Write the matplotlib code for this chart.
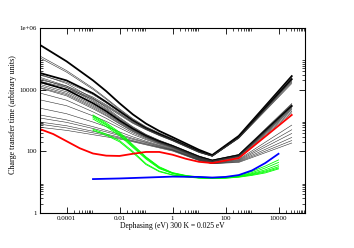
import numpy as np
import matplotlib.pyplot as plt

plt.rcParams['font.family'] = ['Liberation Serif', 'DejaVu Serif']

# x grid (log10 of dephasing, eV) shared by the black curves
black_lx = [-5, -4, -3, -2.5, -2, -1.5, -1, -0.5, 0, 1, 1.5, 2.5, 4.5]

# log10 of transfer time
black_upper = [
    [5.45, 4.92, 4.30, 3.95, 3.56, 3.20, 2.90, 2.66, 2.46, 2.05, 1.88, 2.50, 4.44],
    [5.09, 4.62, 4.05, 3.72, 3.38, 3.06, 2.80, 2.60, 2.42, 2.02, 1.87, 2.48, 4.40],
    [5.03, 4.57, 4.01, 3.69, 3.35, 3.04, 2.78, 2.58, 2.40, 2.01, 1.86, 2.47, 4.37],
    [4.54, 4.30, 3.88, 3.60, 3.30, 3.00, 2.75, 2.56, 2.38, 2.00, 1.86, 2.46, 4.34],
    [4.47, 4.24, 3.84, 3.57, 3.27, 2.98, 2.74, 2.54, 2.37, 1.99, 1.85, 2.45, 4.31],
    [4.32, 4.12, 3.76, 3.51, 3.23, 2.95, 2.72, 2.53, 2.36, 1.98, 1.85, 2.44, 4.28],
    [4.27, 4.07, 3.72, 3.48, 3.21, 2.93, 2.71, 2.52, 2.35, 1.97, 1.84, 2.43, 4.24],
    [4.22, 4.02, 3.69, 3.45, 3.18, 2.91, 2.70, 2.51, 2.34, 1.96, 1.84, 2.42, 4.20],
]
upper_thick = [0, 3]

black_middle = [
    [4.50, 4.20, 3.72, 3.42, 3.10, 2.80, 2.55, 2.36, 2.20, 1.85, 1.72, 1.90, 3.55],
    [4.40, 4.12, 3.66, 3.38, 3.07, 2.78, 2.54, 2.35, 2.19, 1.84, 1.71, 1.89, 3.52],
    [4.36, 4.08, 3.62, 3.35, 3.04, 2.76, 2.52, 2.33, 2.18, 1.83, 1.70, 1.88, 3.50],
    [4.25, 4.00, 3.56, 3.30, 3.00, 2.73, 2.50, 2.32, 2.17, 1.82, 1.70, 1.87, 3.47],
    [4.17, 3.93, 3.50, 3.25, 2.96, 2.70, 2.48, 2.30, 2.16, 1.81, 1.69, 1.86, 3.44],
    [4.12, 3.88, 3.46, 3.22, 2.94, 2.68, 2.47, 2.29, 2.15, 1.80, 1.68, 1.85, 3.41],
    [4.07, 3.84, 3.42, 3.18, 2.91, 2.66, 2.45, 2.28, 2.14, 1.79, 1.68, 1.84, 3.38],
    [4.05, 3.80, 3.38, 3.15, 2.89, 2.64, 2.44, 2.27, 2.13, 1.78, 1.67, 1.83, 3.35],
    [3.89, 3.66, 3.28, 3.07, 2.83, 2.60, 2.41, 2.25, 2.12, 1.77, 1.66, 1.82, 3.30],
    [3.67, 3.48, 3.15, 2.97, 2.76, 2.55, 2.38, 2.23, 2.10, 1.76, 1.65, 1.80, 3.25],
]
middle_thick = [3]

black_lower = [
    [3.40, 3.22, 2.95, 2.80, 2.63, 2.47, 2.33, 2.20, 2.08, 1.75, 1.64, 1.74, 2.85],
    [3.18, 3.02, 2.80, 2.68, 2.55, 2.42, 2.30, 2.18, 2.06, 1.74, 1.63, 1.72, 2.70],
    [3.08, 2.94, 2.74, 2.63, 2.51, 2.39, 2.28, 2.16, 2.05, 1.73, 1.62, 1.70, 2.58],
    [2.95, 2.83, 2.65, 2.56, 2.46, 2.35, 2.25, 2.14, 2.04, 1.72, 1.61, 1.68, 2.45],
    [2.88, 2.76, 2.60, 2.52, 2.43, 2.33, 2.23, 2.13, 2.03, 1.71, 1.60, 1.66, 2.35],
    [2.78, 2.68, 2.54, 2.47, 2.40, 2.31, 2.21, 2.11, 2.01, 1.70, 1.60, 1.64, 2.27],
]

green_lx = [-3, -2.5, -2, -1.5, -1, -0.5, 0, 0.5, 1, 1.5, 2, 2.5, 3, 3.5, 4]
green = [
    [3.18, 2.92, 2.62, 2.22, 1.82, 1.50, 1.31, 1.22, 1.17, 1.15, 1.17, 1.22, 1.35, 1.52, 1.72],
    [3.14, 2.88, 2.58, 2.19, 1.80, 1.48, 1.30, 1.21, 1.16, 1.14, 1.16, 1.20, 1.31, 1.46, 1.64],
    [3.10, 2.85, 2.55, 2.16, 1.78, 1.46, 1.29, 1.20, 1.15, 1.13, 1.15, 1.19, 1.28, 1.40, 1.56],
    [3.05, 2.80, 2.51, 2.13, 1.75, 1.44, 1.28, 1.19, 1.14, 1.13, 1.14, 1.18, 1.26, 1.36, 1.50],
    [2.72, 2.56, 2.35, 2.00, 1.60, 1.36, 1.24, 1.18, 1.14, 1.12, 1.13, 1.17, 1.24, 1.33, 1.46],
    [2.68, 2.52, 2.31, 1.96, 1.57, 1.34, 1.23, 1.17, 1.13, 1.12, 1.13, 1.16, 1.22, 1.30, 1.43],
]

blue_lx = [-3, -2, -1, 0, 1, 1.5, 2, 2.5, 3, 3.5, 4]
blue = [1.10, 1.12, 1.15, 1.18, 1.17, 1.15, 1.17, 1.23, 1.38, 1.62, 1.92]

red_lx = [-5, -4.5, -4, -3.5, -3, -2.5, -2, -1.5, -1, -0.5, 0, 0.5, 1, 1.5, 2.5, 4.5]
red = [2.72, 2.56, 2.33, 2.10, 1.93, 1.86, 1.85, 1.92, 1.98, 1.98, 1.89, 1.76, 1.66, 1.62, 1.78, 3.18]

xticks = [1e-4, 1e-2, 1, 1e2, 1e4]
xticklabels = ['0.0001', '0.01', '1', '100', '10000']
yticks = [1, 1e2, 1e4, 1e6]
yticklabels = ['1', '100', '10000', '1e+06']


def p(lx):
    return 10.0 ** np.array(lx)


fig = plt.figure(figsize=(3.54, 2.48), dpi=100)
ax = fig.add_axes([40 / 354, 1 - 213 / 248, 265 / 354, 185 / 248])

thin = dict(color='#303030', lw=0.4)
thick = dict(color='black', lw=1.3)
for i, ly in enumerate(black_upper):
    ax.plot(p(black_lx), p(ly), **(thick if i in upper_thick else thin))
for i, ly in enumerate(black_middle):
    ax.plot(p(black_lx), p(ly), **(thick if i in middle_thick else thin))
for ly in black_lower:
    ax.plot(p(black_lx), p(ly), **thin)
for ly in green:
    ax.plot(p(green_lx), p(ly), color='#00ff00', lw=0.6)
ax.plot(p(blue_lx), p(blue), color='#0000ff', lw=1.3)
ax.plot(p(red_lx), p(red), color='#ff0000', lw=1.3)

ax.set_xscale('log')
ax.set_yscale('log')
ax.set_xlim(1e-5, 1e5)
ax.set_ylim(1, 1e6)

ax.set_xticks(xticks)
ax.set_xticklabels(xticklabels)
ax.set_yticks(yticks)
ax.set_yticklabels(yticklabels)
ax.set_xticks([k * t for t in xticks for k in range(2, 10)], minor=True)
ax.set_yticks([k * t for t in yticks[:-1] for k in range(2, 10)], minor=True)
ax.tick_params(which='both', direction='in', top=True, right=True, labelsize=5, pad=2)
ax.tick_params(which='major', length=4, width=0.6)
ax.tick_params(which='minor', length=2, width=0.5)
for s in ax.spines.values():
    s.set_linewidth(0.8)

ax.set_xlabel('Dephasing (eV) 300 K = 0.025 eV', fontsize=5.5, labelpad=1)
ax.set_ylabel('Charge transfer time (arbitrary units)', fontsize=5.8, labelpad=6)
ax.yaxis.set_label_coords(-0.085, 0.53)

fig.savefig('out.png', dpi=100)
